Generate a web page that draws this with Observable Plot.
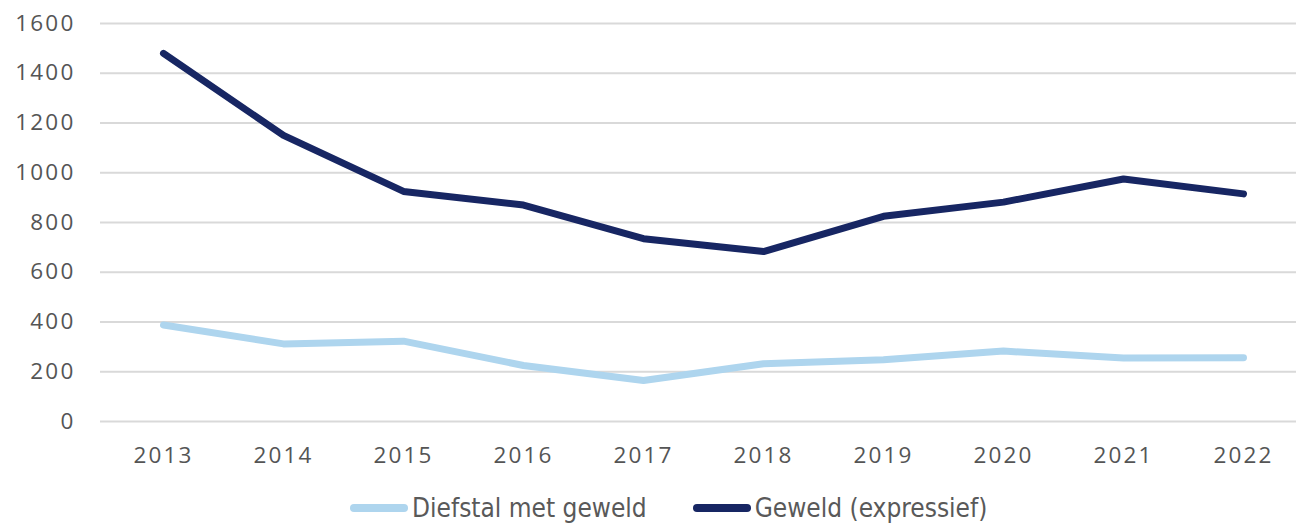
<!DOCTYPE html>
<html>
<head>
<meta charset="utf-8">
<script src="https://cdn.jsdelivr.net/npm/d3@7"></script>
<script src="https://cdn.jsdelivr.net/npm/@observablehq/plot@0.6"></script>
<style>
  html, body { margin: 0; padding: 0; background: #fff; overflow: hidden; }
  #wrap { position: relative; width: 1296px; height: 524px; }
  #legend { position: absolute; left: 350px; top: 494px; display: flex; align-items: center; line-height: 28px;
            font-family: "Liberation Sans Narrow", "DejaVu Sans Condensed", sans-serif; font-size: 26px; color: #595959; }
  .item { display: flex; align-items: center; margin-right: 46px; }
  .sw { width: 58px; height: 8px; border-radius: 4px; margin-right: 4px; }
</style>
</head>
<body>
<div id="wrap">
  <div id="chart"></div>
  <div id="legend"></div>
</div>
<script>
const years = ["2013","2014","2015","2016","2017","2018","2019","2020","2021","2022"];
const diefstal = [388, 312, 323, 225, 165, 232, 248, 283, 255, 256];
const geweld = [1480, 1150, 925, 870, 735, 683, 825, 882, 975, 915];
const seriesNames = ["Diefstal met geweld", "Geweld (expressief)"];
const seriesColors = ["#aed5ee", "#172663"];
const yTicks = [0, 200, 400, 600, 800, 1000, 1200, 1400, 1600];

const data = [];
years.forEach((y, i) => {
  data.push({year: y, value: diefstal[i], series: seriesNames[0]});
  data.push({year: y, value: geweld[i], series: seriesNames[1]});
});

const chart = Plot.plot({
  width: 1296,
  height: 475,
  marginTop: 23,
  marginBottom: 54,
  marginLeft: 100,
  marginRight: 0,
  style: {fontFamily: "'Open Sans', sans-serif", fontSize: "22.5px", color: "#555", background: "#fff", letterSpacing: "2.2px"},
  x: {type: "point", domain: years, padding: 0, insetLeft: 60, insetRight: 50, label: null},
  y: {domain: [0, 1600], label: null},
  color: {domain: seriesNames, range: seriesColors},
  marks: [
    Plot.ruleY(yTicks, {stroke: "#d9d9d9", strokeWidth: 2}),
    Plot.axisY({ticks: yTicks, tickFormat: d => String(d), tickSize: 0, tickPadding: 25, label: null, fill: "#555"}),
    Plot.axisX({tickSize: 0, tickPadding: 26, label: null, fill: "#555"}),
    Plot.line(data, {x: "year", y: "value", stroke: "series", strokeWidth: 7, strokeLinecap: "round", strokeLinejoin: "round"})
  ]
});
document.getElementById("chart").appendChild(chart);

const legend = document.getElementById("legend");
seriesNames.forEach((name, i) => {
  const item = document.createElement("div");
  item.className = "item";
  const sw = document.createElement("div");
  sw.className = "sw";
  sw.style.background = seriesColors[i];
  const t = document.createElement("span");
  t.textContent = name;
  item.appendChild(sw);
  item.appendChild(t);
  legend.appendChild(item);
});
</script>
</body>
</html>
